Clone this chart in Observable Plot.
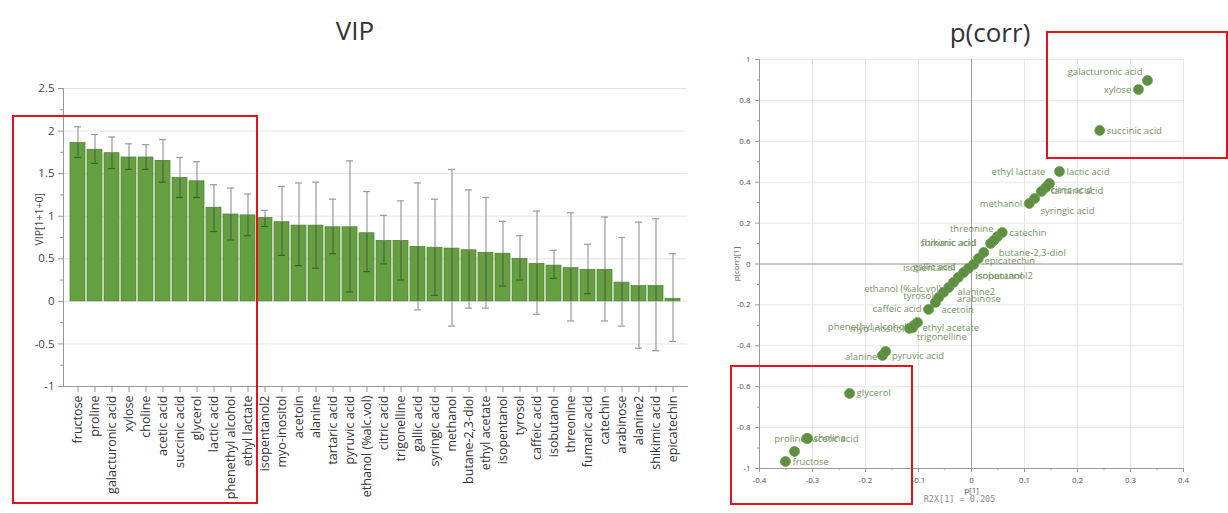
<!DOCTYPE html>
<html><head><meta charset="utf-8">
<script src="https://cdn.jsdelivr.net/npm/d3@7"></script>
<script src="https://cdn.jsdelivr.net/npm/@observablehq/plot@0.6"></script>
<style>
body{margin:0;background:#fff;font-family:"Open Sans",sans-serif;}
#wrap{position:relative;width:1228px;height:513px;overflow:hidden;background:#fff;}
.title{position:absolute;font-size:26px;line-height:36px;color:#333;transform:translateX(-50%);white-space:nowrap;}
#left{position:absolute;left:0;top:70px;}
#right{position:absolute;left:700px;top:40px;}
.box{position:absolute;border:2.5px solid #e3121c;box-sizing:border-box;}
</style></head>
<body><div id="wrap">
<div class="title" style="left:355px;top:12px;">VIP</div>
<div class="title" style="left:990px;top:14px;">p(corr)</div>
<div id="left"></div>
<div id="right"></div>
<div class="box" style="left:12px;top:115px;width:246px;height:389px;"></div>
<div class="box" style="left:1046px;top:31px;width:182px;height:128px;"></div>
<div class="box" style="left:730px;top:365px;width:183px;height:140px;"></div>
</div>
<script>
// ---- VIP bar chart data ----
const vipNames = ["fructose","proline","galacturonic acid","xylose","choline","acetic acid","succinic acid","glycerol","lactic acid","phenethyl alcohol","ethyl lactate","isopentanol2","myo-inositol","acetoin","alanine","tartaric acid","pyruvic acid","ethanol (%alc.vol)","citric acid","trigonelline","gallic acid","syringic acid","methanol","butane-2,3-diol","ethyl acetate","isopentanol","tyrosol","caffeic acid","isobutanol","threonine","fumaric acid","catechin","arabinose","alanine2","shikimic acid","epicatechin"];
const vipValues = [1.86,1.78,1.74,1.69,1.69,1.65,1.45,1.41,1.10,1.02,1.01,0.98,0.93,0.89,0.89,0.87,0.87,0.80,0.71,0.71,0.64,0.63,0.62,0.60,0.57,0.56,0.50,0.44,0.42,0.39,0.37,0.37,0.22,0.18,0.18,0.03];
const vipLow = [1.69,1.62,1.56,1.55,1.55,1.40,1.22,1.22,0.82,0.72,0.77,0.88,0.54,0.42,0.39,0.56,0.11,0.35,0.44,0.25,-0.10,0.07,-0.29,-0.08,-0.08,0.18,0.25,-0.15,0.27,-0.23,0.09,-0.23,-0.29,-0.55,-0.58,-0.47];
const vipHigh = [2.05,1.96,1.93,1.85,1.84,1.90,1.69,1.64,1.37,1.33,1.26,1.07,1.35,1.39,1.40,1.20,1.65,1.29,1.01,1.18,1.39,1.20,1.55,1.31,1.22,0.94,0.77,1.06,0.60,1.04,0.67,0.99,0.75,0.93,0.97,0.56];
const vipTicks = [-1,-0.5,0,0.5,1,1.5,2,2.5];
const vipMinorTicks = [-0.75,-0.25,0.25,0.75,1.25,1.75,2.25];
const vipAxisLabel = "VIP[1+1+0]";

// ---- p(corr) scatter data (same order as vipNames) ----
const p1 = [-0.351,-0.311,0.332,0.315,-0.309,-0.334,0.242,-0.230,0.166,-0.109,0.147,-0.025,-0.117,-0.068,-0.168,0.140,-0.162,-0.053,0.132,-0.111,0.004,0.119,0.109,0.023,-0.102,-0.006,-0.062,-0.081,-0.015,0.049,0.042,0.058,-0.043,-0.034,0.036,0.013];
const pcorr = [-0.966,-0.853,0.897,0.853,-0.853,-0.917,0.653,-0.633,0.452,-0.301,0.394,-0.066,-0.315,-0.188,-0.447,0.374,-0.428,-0.139,0.355,-0.311,-0.002,0.320,0.296,0.056,-0.286,-0.022,-0.164,-0.222,-0.042,0.134,0.115,0.154,-0.115,-0.090,0.100,0.027];
const xTicks = [-0.4,-0.3,-0.2,-0.1,0,0.1,0.2,0.3,0.4];
const xMinorTicks = [-0.35,-0.25,-0.15,-0.05,0.05,0.15,0.25,0.35];
const yTicks = [-1,-0.8,-0.6,-0.4,-0.2,0,0.2,0.4,0.6,0.8,1];
const yMinorTicks = [-0.9,-0.7,-0.5,-0.3,-0.1,0.1,0.3,0.5,0.7,0.9];
const r2xText = "R2X[1] = 0.205";

// label placement (style only): [anchor, dx, dy]
const labelPlace = {
  "galacturonic acid":["end",-5,-9], "xylose":["end",-7,0], "succinic acid":["start",7,0],
  "lactic acid":["start",7,0], "ethyl lactate":["end",-4,-11], "tartaric acid":["start",5,3],
  "citric acid":["start",9,-1], "syringic acid":["start",6,12], "methanol":["end",-7,0],
  "catechin":["start",7,0], "threonine":["end",-4,-8], "fumaric acid":["end",-18,2],
  "shikimic acid":["end",-14,-1], "butane-2,3-diol":["start",15,0], "epicatechin":["start",6,2],
  "gallic acid":["end",-18,3], "isopentanol":["end",-13,-1], "isobutanol":["start",12,3],
  "isopentanol2":["start",17,-2], "alanine2":["start",4,10], "arabinose":["start",8,11],
  "ethanol (%alc.vol)":["end",-2,-3], "tyrosol":["end",-5,-2], "acetoin":["start",6,8],
  "caffeic acid":["end",-7,0], "ethyl acetate":["start",5,5], "trigonelline":["start",4,9],
  "phenethyl alcohol":["end",-7,1], "myo-inositol":["end",-5,1], "alanine":["end",-5,2],
  "pyruvic acid":["start",6,4], "glycerol":["start",7,0], "proline":["end",-1,1],
  "choline":["start",6,0], "acetic acid":["start",18,-13], "fructose":["start",7,0]
};

const fmt = d => String(Math.round(d * 100) / 100);
const dark = "#3c6427", grayE = "#9a9a9a";

const vipData = vipNames.map((n, i) => ({name: n, v: vipValues[i], lo: vipLow[i], hi: vipHigh[i]}));

const left = Plot.plot({
  width: 700, height: 443,
  marginLeft: 63, marginRight: 13, marginTop: 18, marginBottom: 127,
  style: {fontFamily: "'Open Sans', sans-serif", background: "transparent", color: "#333"},
  x: {type: "band", domain: vipNames, paddingInner: 0.12, paddingOuter: 0.03},
  y: {domain: [-1, 2.5]},
  color: {type: "identity"},
  marks: [
    Plot.gridY(vipTicks, {stroke: "#e4e4e4", strokeOpacity: 1}),
    Plot.barY(vipData, {x: "name", y: "v", fill: "#64a040", stroke: "#4e7e32", strokeWidth: 0.7}),
    Plot.ruleX(vipData, {x: "name", y1: "lo", y2: "hi", stroke: grayE, strokeWidth: 1.2}),
    Plot.ruleX(vipData, {x: "name", y1: d => Math.max(d.lo, 0), y2: d => Math.min(d.hi, d.v), stroke: dark, strokeWidth: 1.2}),
    Plot.tickY(vipData, {x: "name", y: "lo", stroke: d => (d.lo > 0 && d.lo < d.v) ? dark : grayE, insetLeft: 4, insetRight: 4, strokeWidth: 1.2}),
    Plot.tickY(vipData, {x: "name", y: "hi", stroke: d => (d.hi < d.v) ? dark : grayE, insetLeft: 4, insetRight: 4, strokeWidth: 1.2}),
    Plot.frame({anchor: "left", stroke: "#999"}),
    Plot.frame({anchor: "bottom", stroke: "#999"}),
    Plot.axisY(vipTicks, {tickFormat: fmt, fontSize: 11.5, stroke: "#999", fill: "#444", tickSize: 5, label: null}),
    Plot.axisY(vipMinorTicks, {tickFormat: () => "", tickSize: 3, stroke: "#999", label: null}),
    Plot.text([vipAxisLabel], {frameAnchor: "left", rotate: -90, dx: -24, dy: 8, fontSize: 10.5, fill: "#444"}),
    Plot.axisX({tickRotate: -90, fontSize: 12.5, stroke: "#999", fill: "#333", tickSize: 6, label: null})
  ]
});
document.getElementById("left").appendChild(left);

const sc = vipNames.map((n, i) => ({name: n, p: p1[i], pc: pcorr[i]}));
const textMarks = sc.map(d => {
  const [anchor, dx, dy] = labelPlace[d.name] || ["start", 7, 0];
  return Plot.text([d], {x: "p", y: "pc", text: "name", textAnchor: anchor, dx, dy,
    fontSize: 9.5, fill: "#74945f"});
});

const right = Plot.plot({
  width: 528, height: 473,
  marginLeft: 59, marginRight: 45, marginTop: 19, marginBottom: 45,
  style: {fontFamily: "'Open Sans', sans-serif", background: "transparent", color: "#555"},
  x: {domain: [-0.4, 0.4]},
  y: {domain: [-1, 1]},
  marks: [
    Plot.gridX(xTicks, {stroke: "#e6e6e6", strokeOpacity: 1}),
    Plot.gridY(yTicks, {stroke: "#e6e6e6", strokeOpacity: 1}),
    Plot.ruleX([0], {stroke: "#9c9c9c"}),
    Plot.ruleY([0], {stroke: "#9c9c9c"}),
    Plot.frame({anchor: "left", stroke: "#999"}),
    Plot.frame({anchor: "bottom", stroke: "#999"}),
    ...textMarks,
    Plot.dot(sc, {x: "p", y: "pc", r: 5, fill: "#5e8f40", stroke: "#6f9d52", strokeWidth: 0.8}),
    Plot.axisX(xTicks, {tickFormat: fmt, fontSize: 8, tickSize: 4, stroke: "#999", fill: "#555",
      label: "p[1]", labelAnchor: "center", labelArrow: "none", labelOffset: 24}),
    Plot.axisX(xMinorTicks, {tickFormat: () => "", tickSize: 2, stroke: "#999", label: null}),
    Plot.axisY(yTicks, {tickFormat: fmt, fontSize: 8, tickSize: 4, stroke: "#999", fill: "#555",
      label: "p(corr)[1]", labelAnchor: "center", labelArrow: "none", labelOffset: 26}),
    Plot.axisY(yMinorTicks, {tickFormat: () => "", tickSize: 2, stroke: "#999", label: null}),
    Plot.text([r2xText], {frameAnchor: "bottom", dx: -12, dy: 33, fontFamily: "'DejaVu Sans Mono', monospace",
      fontSize: 8.5, fill: "#8a8a8a"})
  ]
});
document.getElementById("right").appendChild(right);
</script>
</body></html>
